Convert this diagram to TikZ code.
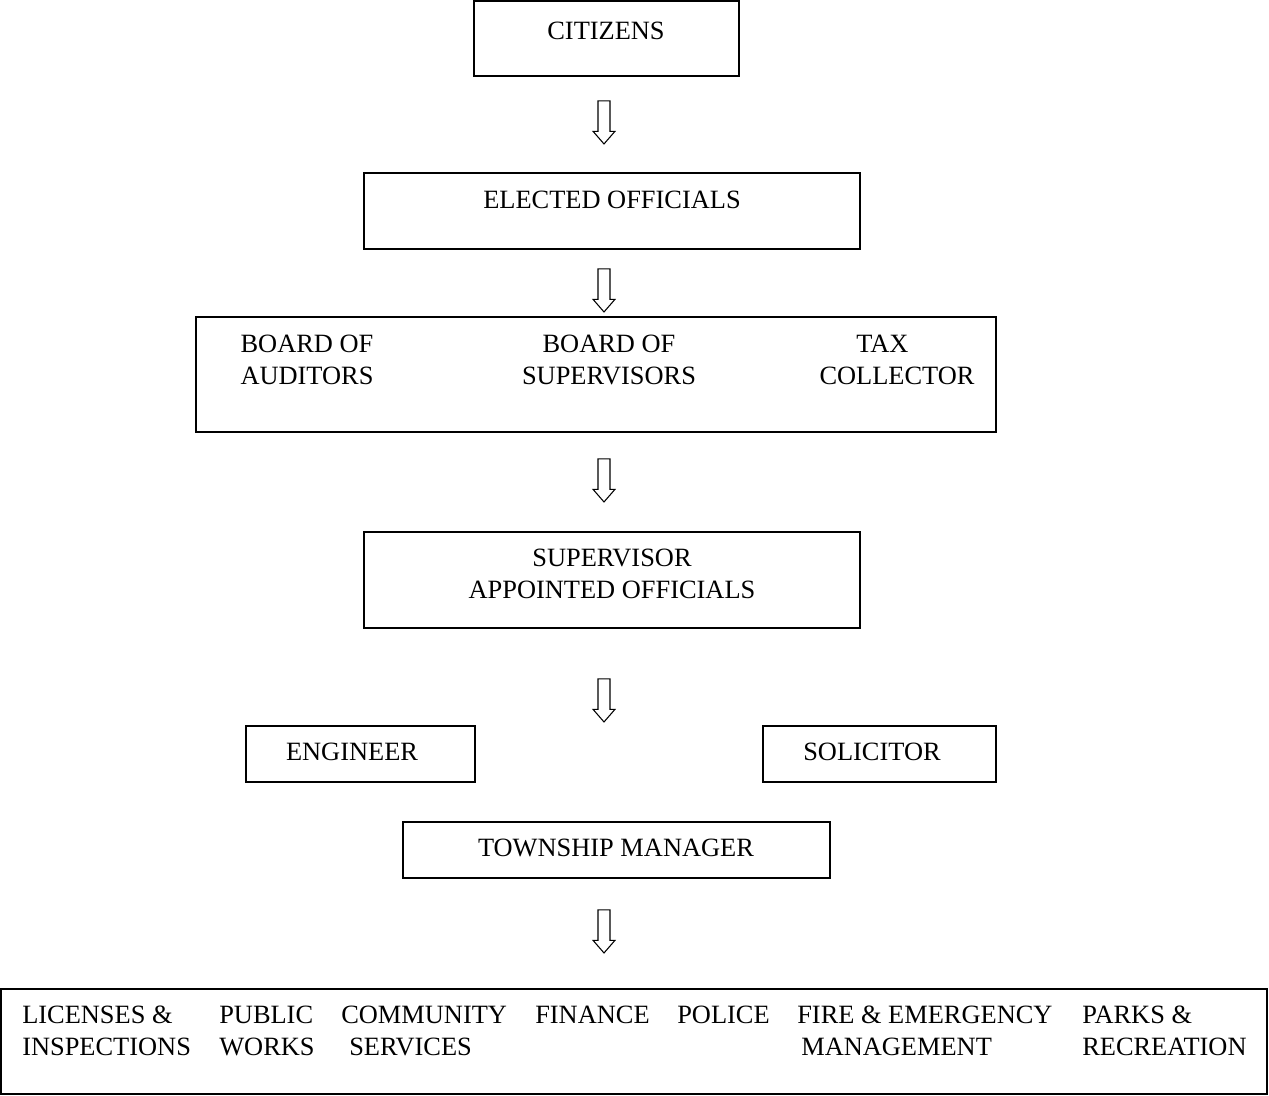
\documentclass[tikz,border=0pt]{standalone}
\usepackage{fontspec}
\setmainfont{Liberation Serif}
\usetikzlibrary{shapes.arrows,fit}

\begin{document}
\begin{tikzpicture}[x=0.75pt, y=-0.75pt]
\tikzstyle{box}=[draw, line width=1.1pt, inner sep=0pt]
\tikzstyle{lbl}=[inner sep=0pt, align=center,
                 font=\fontsize{19.8}{23.6}\selectfont]
\tikzstyle{dept}=[lbl, align=left, anchor=north west]
\tikzstyle{downarr}=[draw, line width=0.8pt, shape=single arrow, rotate=-90,
                     inner xsep=0pt, inner ysep=4.1pt, minimum height=32.25pt,
                     minimum width=15.75pt, single arrow head extend=3.75pt,
                     single arrow tip angle=82]

\useasboundingbox (0,0) rectangle (1269,1095);

% boxes
\node[box, fit={(474,1) (739,76)}] (citizens) {};
\node[box, fit={(364,173) (860,249)}] (elected) {};
\node[box, fit={(196,317) (996,432)}] (boards) {};
\node[box, fit={(364,532) (860,628)}] (appointed) {};
\node[box, fit={(246,726) (475,782)}] (engineer) {};
\node[box, fit={(763,726) (996,782)}] (solicitor) {};
\node[box, fit={(403,822) (830,878)}] (manager) {};
\node[box, fit={(1,989) (1267,1094)}] (depts) {};

% texts
\node[lbl, anchor=base] (t-citizens) at (606,40) {CITIZENS};
\node[lbl, anchor=base] (t-elected) at (612,208) {ELECTED OFFICIALS};
\node[lbl, anchor=north] (t-auditors) at (307,335) {BOARD OF\\AUDITORS};
\node[lbl, anchor=north] (t-supervisors) at (609,335) {BOARD OF\\SUPERVISORS};
\node[lbl, anchor=north] (t-tax) at (897,335) {TAX\hspace*{22pt}\\COLLECTOR};
\node[lbl, anchor=north] (t-appointed) at (612,549) {SUPERVISOR\\APPOINTED OFFICIALS};
\node[lbl, anchor=base] (t-engineer) at (352,760) {ENGINEER};
\node[lbl, anchor=base] (t-solicitor) at (872,760) {SOLICITOR};
\node[lbl, anchor=base] (t-manager) at (616,856) {TOWNSHIP MANAGER};

\node[dept] (licenses) at (22,1006) {LICENSES \&\\INSPECTIONS};
\node[dept] (works) at (219,1006) {PUBLIC\\WORKS};
\node[dept] (community) at (341,1006) {COMMUNITY\\\hspace*{6pt}SERVICES};
\node[dept] (finance) at (535,1006) {FINANCE};
\node[dept] (police) at (677,1006) {POLICE};
\node[dept] (fire) at (797,1006) {FIRE \& EMERGENCY\\\hspace*{3pt}MANAGEMENT};
\node[dept] (parks) at (1082,1006) {PARKS \&\\RECREATION};

% hollow arrows
\node[downarr] (arr1) at (604,119) {};
\node[downarr] (arr2) at (604,287) {};
\node[downarr] (arr3) at (604,477) {};
\node[downarr] (arr4) at (604,697) {};
\node[downarr] (arr5) at (604,928) {};

\end{tikzpicture}
\end{document}
